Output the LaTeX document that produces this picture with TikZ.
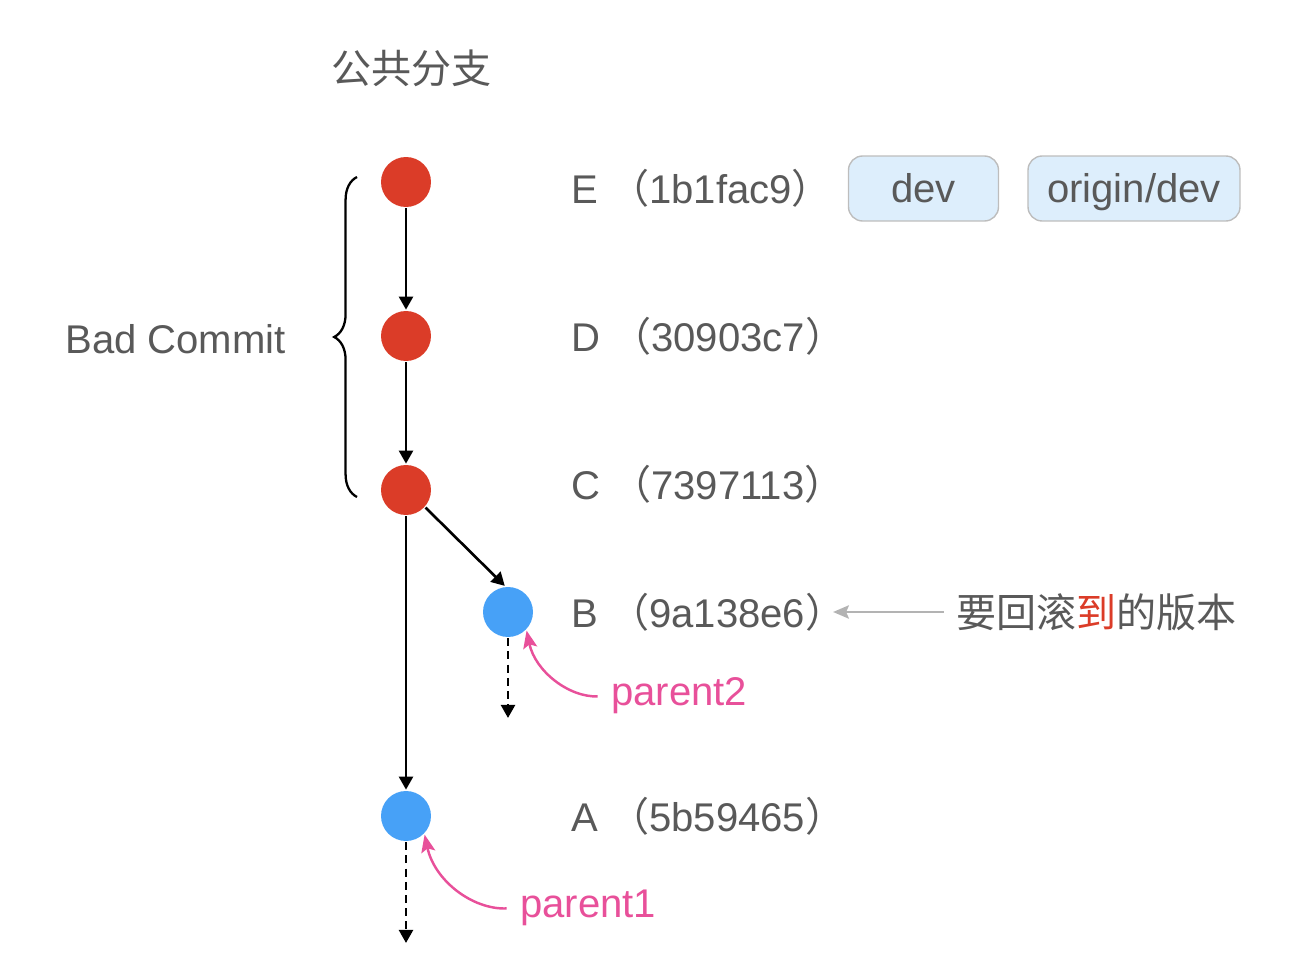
\documentclass[tikz,border=0pt]{standalone}
\usepackage{fontspec}
\setmainfont{Liberation Sans}
\newfontfamily\cjk{Noto Sans CJK SC}
\usepackage{xcolor}
\usetikzlibrary{arrows.meta,decorations.pathreplacing}

\definecolor{commitred}{HTML}{DB3C28}
\definecolor{commitblue}{HTML}{47A1F7}
\definecolor{txtgray}{HTML}{595959}
\definecolor{parentpink}{HTML}{E8509A}
\definecolor{tagfill}{HTML}{DDEEFC}
\definecolor{tagline}{HTML}{BDBDBD}
\definecolor{hintgray}{HTML}{B3B3B3}

\tikzset{
  commit/.style={circle, minimum size=1cm, inner sep=0pt},
  bad/.style={commit, fill=commitred},
  good/.style={commit, fill=commitblue},
  lbl/.style={anchor=base west, text=txtgray, inner sep=0pt},
  tag/.style={draw=tagline, fill=tagfill, line width=0.8pt, rounded corners=8pt, minimum height=1.3cm,
    text height=17pt, text depth=0.5pt, text=txtgray},
  parentarrow/.style={->, parentpink, line width=1.4pt, >={Stealth[length=10pt,width=8pt,inset=2pt]}, shorten <=7pt},
}

\begin{document}
\begin{tikzpicture}[x=0.02cm, y=-0.02cm, font=\fontsize{22.8}{27}\selectfont,
    >={Triangle[length=7.5pt,width=8pt]}, line width=1.5pt]
            \useasboundingbox (0,0) rectangle (1292,976);

            \node[anchor=west, text=txtgray, inner sep=0pt] (title) at (330,68) {\cjk 公共分支};

            \node[bad] (E) at (406,182) {};
            \node[bad] (D) at (406,336) {};
            \node[bad] (C) at (406,490) {};
            \node[good] (B) at (508,612) {};
            \node[good] (A) at (406,816) {};
            \coordinate (Btail) at (508,718);
            \coordinate (Atail) at (406,943);

            \node[lbl] (Elbl) at (570,204) {E {\cjk （}1b1fac9{\cjk ）}};
            \node[lbl] (Dlbl) at (570,352) {D {\cjk （}30903c7{\cjk ）}};
            \node[lbl] (Clbl) at (570,500) {C {\cjk （}7397113{\cjk ）}};
            \node[lbl] (Blbl) at (570,627) {B {\cjk （}9a138e6{\cjk ）}};
            \node[lbl] (Albl) at (570,831) {A {\cjk （}5b59465{\cjk ）}};
            \coordinate (Btip) at (833,612);

            \node[tag, minimum width=3cm] (dev) at (923.5,188.5) {dev};
            \node[tag, minimum width=4.24cm] (origin) at (1134,188.5) {origin/dev};

            \node[anchor=base east, text=txtgray, inner sep=0pt] (bad) at (287,354) {Bad Commit};
            \draw[decorate, decoration={brace, amplitude=13pt}, line width=1.3pt] (357,497) -- (357,177);

            \draw[->] (E) -- (D);
            \draw[->] (D) -- (C);
            \draw[->] (C.-42) -- (B.97);
            \draw[->] (C) -- (A);
            \draw[->, dash pattern=on 4.5pt off 3pt] (B) -- (Btail);
            \draw[->, dash pattern=on 4.5pt off 3pt] (A) -- (Atail);

            \node[anchor=west, text=txtgray, inner sep=0pt] (target) at (955,612) {\cjk 要回滚{\color{commitred}到}的版本};
            \draw[->, draw=hintgray, line width=1.5pt, >={Stealth[length=9pt,width=7.5pt,inset=1.5pt]}, shorten <=6.5pt] (target.west) -- (Btip);

            \node[anchor=west, text=parentpink, inner sep=0pt] (p2) at (610,696) {parent2};
            \node[anchor=west, text=parentpink, inner sep=0pt] (p1) at (519,908) {parent1};
            \draw[parentarrow] (p2.west) to[bend left=40] (B.-45);
            \draw[parentarrow] (p1.west) to[bend left=40] (A.-45);
        \end{tikzpicture}
\end{document}
